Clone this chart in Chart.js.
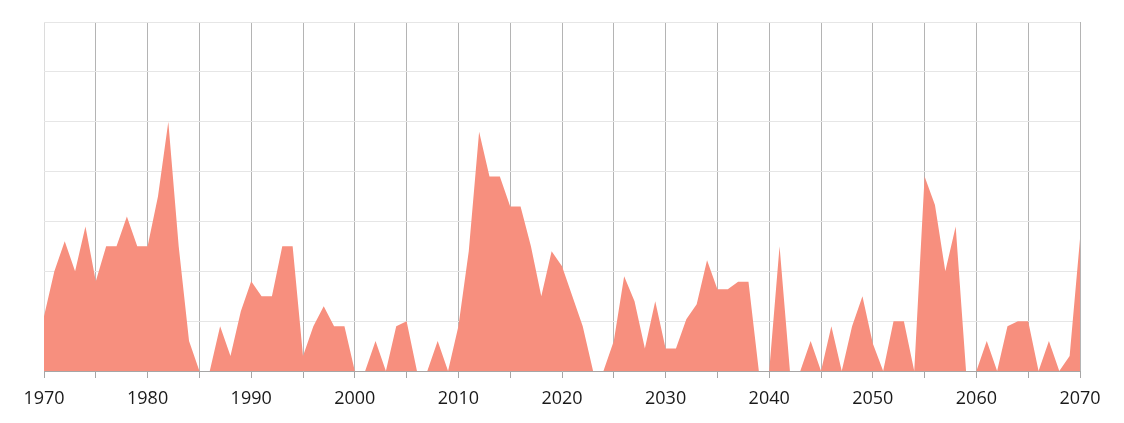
<!DOCTYPE html>
<html><head><meta charset="utf-8">
<script src="https://cdn.jsdelivr.net/npm/chart.js@4/dist/chart.umd.min.js"></script>
<style>html,body{margin:0;padding:0;background:#fff}#wrap{width:1124px;height:423px}</style>
</head><body><div id="wrap"><canvas id="c"></canvas></div>
<script>
const startYear = 1970;
const values = [
 11,20,26,20,29,18,25,25,31,25,
 25,35,50,25,6,0,0,9,3,12,
 18,15,15,25,25,3,9,13,9,9,
 0,0,6,0,9,10,0,0,6,0,
 9,24,48,39,39,33,33,25,15,24,
 21,15,9,0,0,6,19,14,4.5,14,
 4.5,4.5,10.4,13.4,22.2,16.4,16.4,17.9,17.9,0,
 0,25,0,0,6,0,9,0,9,15,
 5.5,0,10,10,0,39,33.3,20,29,0,
 0,6,0,9,10,10,0,6,0,3,
 26.5
];
const years = values.map((v,i)=>startYear+i);
const xTickLabels = [1970,1980,1990,2000,2010,2020,2030,2040,2050,2060,2070];
const points = years.map((y,i)=>({x:y,y:values[i]}));

new Chart(document.getElementById('c'), {
  type:'line',
  data:{datasets:[{data:points,fill:'origin',backgroundColor:'rgb(247,143,126)',borderWidth:0,borderColor:'rgb(247,143,126)',pointRadius:0,tension:0}]},
  options:{
    responsive:true,maintainAspectRatio:false,animation:false,
    layout:{padding:{left:44,right:44,top:22,bottom:0}},
    plugins:{legend:{display:false},tooltip:{enabled:false}},
    scales:{
      x:{type:'linear',min:1970,max:2070,
        afterFit(s){s.height=52;},
        afterBuildTicks(s){s.ticks=[];for(let y=1970;y<=2070;y+=5)s.ticks.push({value:y});},
        grid:{color:(c)=>c.tick&&c.tick.value===1970?'#dcdcdc':'#b4b4b4',lineWidth:1,tickLength:7,tickColor:'#a6a6a6'},
        border:{color:'#a6a6a6',width:1},
        ticks:{autoSkip:false,maxRotation:0,padding:10,color:'#1a1a1a',font:{family:'"Open Sans"',size:18},
          callback:(v)=>xTickLabels.includes(v)?String(v):''}
      },
      y:{min:0,max:70,afterFit(s){s.width=0;},
        ticks:{display:false,stepSize:10},
        grid:{color:'#e6e6e6',drawTicks:false},
        border:{display:false}
      }
    }
  }
});
</script></body></html>
